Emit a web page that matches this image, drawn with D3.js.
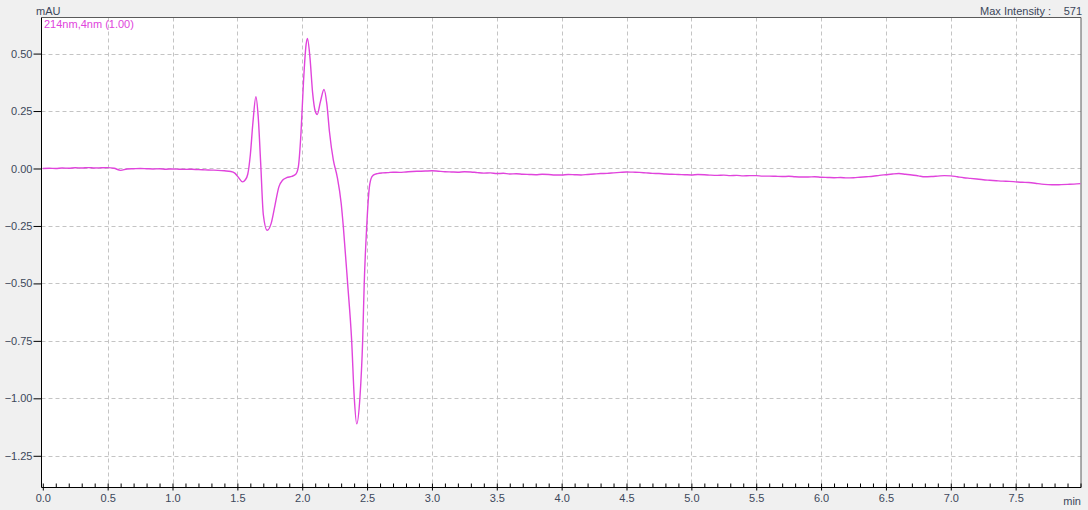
<!DOCTYPE html>
<html>
<head>
<meta charset="utf-8">
<script src="https://cdn.jsdelivr.net/npm/d3@7"></script>
<style>
  html, body { margin: 0; padding: 0; background: #f0f0f0; }
  svg { display: block; }
  text { font-family: "Liberation Sans", Arial, sans-serif; }
</style>
</head>
<body>
<svg id="chart" width="1088" height="510"></svg>
<script>
// Chromatogram trace, 214 nm channel: retention time (min) and absorbance (mAU)
const times = [
  0.00, 0.05, 0.10, 0.15, 0.20, 0.25, 0.30, 0.35, 0.40, 0.45,
  0.50, 0.55, 0.60, 0.65, 0.70, 0.75, 0.80, 0.85, 0.90, 0.95,
  1.00, 1.05, 1.10, 1.15, 1.20, 1.25, 1.30, 1.35, 1.40, 1.45,
  1.48, 1.51, 1.54, 1.56, 1.58, 1.60, 1.62, 1.643, 1.66, 1.68,
  1.70, 1.73, 1.76, 1.79, 1.82, 1.85, 1.88, 1.92, 1.95, 1.97,
  1.99, 2.01, 2.03, 2.04, 2.06, 2.08, 2.10, 2.116, 2.14, 2.168,
  2.19, 2.21, 2.24, 2.27, 2.30, 2.317, 2.35, 2.381, 2.401, 2.42,
  2.445, 2.466, 2.478, 2.497, 2.515, 2.53, 2.548, 2.58, 2.62, 2.66,
  2.70, 2.75, 2.80, 2.85, 2.90, 2.95, 3.00, 3.05, 3.10, 3.15,
  3.20, 3.25, 3.30, 3.35, 3.40, 3.45, 3.50, 3.55, 3.60, 3.65,
  3.70, 3.75, 3.80, 3.85, 3.90, 3.95, 4.00, 4.05, 4.10, 4.15,
  4.20, 4.25, 4.30, 4.35, 4.40, 4.45, 4.50, 4.55, 4.60, 4.65,
  4.70, 4.75, 4.80, 4.85, 4.90, 4.95, 5.00, 5.05, 5.10, 5.15,
  5.20, 5.25, 5.30, 5.35, 5.40, 5.45, 5.50, 5.55, 5.60, 5.65,
  5.70, 5.75, 5.80, 5.85, 5.90, 5.95, 6.00, 6.05, 6.10, 6.15,
  6.20, 6.25, 6.30, 6.35, 6.40, 6.45, 6.50, 6.55, 6.60, 6.65,
  6.70, 6.75, 6.80, 6.85, 6.90, 6.95, 7.00, 7.05, 7.10, 7.15,
  7.20, 7.25, 7.30, 7.35, 7.40, 7.45, 7.50, 7.55, 7.60, 7.65,
  7.70, 7.75, 7.80, 7.85, 7.90, 7.95, 8.00
];
const intensity = [
  0.000, 0.001, 0.000, 0.002, 0.001, 0.003, 0.002, 0.004, 0.002, 0.003,
  0.004, 0.001, -0.008, -0.002, -0.001, 0.000, -0.001, -0.002, -0.001, -0.003,
  -0.002, -0.003, -0.004, -0.003, -0.005, -0.006, -0.007, -0.008, -0.010, -0.013,
  -0.020, -0.040, -0.058, -0.050, -0.025, 0.060, 0.200, 0.312, 0.230, 0.020,
  -0.200, -0.269, -0.240, -0.160, -0.080, -0.050, -0.040, -0.034, -0.025, 0.007,
  0.150, 0.380, 0.540, 0.566, 0.480, 0.330, 0.250, 0.235, 0.290, 0.344,
  0.280, 0.160, 0.036, -0.037, -0.150, -0.254, -0.500, -0.748, -0.995, -1.111,
  -0.995, -0.748, -0.500, -0.254, -0.095, -0.045, -0.029, -0.022, -0.019, -0.018,
  -0.016, -0.017, -0.015, -0.013, -0.012, -0.011, -0.010, -0.012, -0.014, -0.015,
  -0.016, -0.014, -0.015, -0.018, -0.020, -0.019, -0.022, -0.021, -0.024, -0.023,
  -0.025, -0.026, -0.027, -0.025, -0.026, -0.028, -0.028, -0.026, -0.027, -0.028,
  -0.026, -0.024, -0.022, -0.021, -0.019, -0.017, -0.015, -0.016, -0.017, -0.019,
  -0.021, -0.022, -0.024, -0.025, -0.026, -0.027, -0.028, -0.026, -0.027, -0.029,
  -0.030, -0.029, -0.031, -0.030, -0.032, -0.031, -0.031, -0.033, -0.033, -0.034,
  -0.035, -0.034, -0.036, -0.037, -0.037, -0.036, -0.038, -0.039, -0.040, -0.039,
  -0.041, -0.040, -0.038, -0.036, -0.034, -0.030, -0.027, -0.024, -0.022, -0.025,
  -0.028, -0.032, -0.036, -0.035, -0.033, -0.031, -0.032, -0.036, -0.040, -0.043,
  -0.046, -0.049, -0.051, -0.053, -0.055, -0.056, -0.058, -0.060, -0.061, -0.064,
  -0.068, -0.070, -0.071, -0.070, -0.069, -0.068, -0.066
];

// Axis tick values and labels
const xTickValues = [0.0, 0.5, 1.0, 1.5, 2.0, 2.5, 3.0, 3.5, 4.0, 4.5, 5.0, 5.5, 6.0, 6.5, 7.0, 7.5];
const yTickValues = [0.50, 0.25, 0.00, -0.25, -0.50, -0.75, -1.00, -1.25];

const channelLabel = "214nm,4nm (1.00)";
const yUnit = "mAU";
const xUnit = "min";
const maxIntensityLabel = "Max Intensity :";
const maxIntensityValue = "571";

const data = times.map((t, i) => ({ t: t, v: intensity[i] }));

const svg = d3.select("#chart");
const W = 1088, H = 510;
const plot = { left: 41.5, right: 1081, top: 17.5, bottom: 487.5 };

const x = d3.scaleLinear().domain([0, 8]).range([42.8, 1080.5]);
const y = d3.scaleLinear().domain([-1.388, 0.657]).range([plot.bottom, plot.top]);

const lineColor = "#e044dc";
const textColor = "#3c475a";

// Plot background
svg.append("rect")
  .attr("x", plot.left).attr("y", plot.top)
  .attr("width", plot.right - plot.left).attr("height", plot.bottom - plot.top)
  .attr("fill", "#ffffff");

// Dashed grid
const grid = svg.append("g").attr("stroke", "#c4c4c4").attr("stroke-dasharray", "4,3").attr("stroke-width", 1);
grid.selectAll("line.v").data(xTickValues.filter(d => d > 0)).enter().append("line")
  .attr("x1", d => Math.round(x(d)) + 0.5).attr("x2", d => Math.round(x(d)) + 0.5)
  .attr("y1", plot.top).attr("y2", plot.bottom);
grid.selectAll("line.h").data(yTickValues).enter().append("line")
  .attr("x1", plot.left).attr("x2", plot.right)
  .attr("y1", d => Math.round(y(d)) + 0.5).attr("y2", d => Math.round(y(d)) + 0.5);

// Frame: top and right edges
svg.append("path")
  .attr("d", `M${plot.left},${plot.top}H${plot.right}V${plot.bottom}`)
  .attr("fill", "none").attr("stroke", "#5a5a5a").attr("stroke-width", 1);

// Trace
const clip = svg.append("clipPath").attr("id", "clip").append("rect")
  .attr("x", plot.left).attr("y", plot.top)
  .attr("width", plot.right - plot.left).attr("height", plot.bottom - plot.top);

const line = d3.line().x(d => x(d.t)).y(d => y(d.v)).curve(d3.curveMonotoneX);
svg.append("path")
  .datum(data)
  .attr("clip-path", "url(#clip)")
  .attr("d", line)
  .attr("fill", "none")
  .attr("stroke", lineColor)
  .attr("stroke-width", 1.4)
  .attr("stroke-linejoin", "round");

// Y axis: major ticks with labels, minor ticks every 0.05
const yAxis = d3.axisLeft(y).tickValues(yTickValues).tickFormat(d3.format(".2f")).tickSize(8).tickPadding(1);
const yMinor = d3.range(-1.35, 0.651, 0.05).map(v => +v.toFixed(2));
const gy = svg.append("g").attr("transform", `translate(${plot.left},0)`);
gy.call(d3.axisLeft(y).tickValues(yMinor).tickFormat("").tickSize(4).tickSizeOuter(0));
gy.call(yAxis);
gy.selectAll(".domain").attr("stroke", "#000");
gy.selectAll("line").attr("stroke", "#000");
gy.selectAll("text").attr("fill", textColor).attr("font-size", 11);
gy.selectAll(".domain").attr("d", `M0,${plot.top}V${plot.bottom}`);

// X axis: major ticks with labels, minor ticks every 0.1 pointing inward
const xMinor = d3.range(0, 8.01, 0.1).map(v => +v.toFixed(1));
const gx = svg.append("g").attr("transform", `translate(0,${plot.bottom})`);
gx.call(d3.axisTop(x).tickValues(xMinor).tickFormat("").tickSize(4).tickSizeOuter(0));
gx.selectAll(".domain").attr("d", `M${plot.left},0H${plot.right}`);
const gx2 = svg.append("g").attr("transform", `translate(0,${plot.bottom})`);
gx2.call(d3.axisBottom(x).tickValues(xTickValues).tickFormat(d3.format(".1f")).tickSize(3).tickPadding(4));
gx2.select(".domain").remove();
svg.selectAll("g line, g .domain").attr("stroke", "#000");
grid.selectAll("line").attr("stroke", "#c4c4c4");
gx2.selectAll("text").attr("fill", textColor).attr("font-size", 11);

// Labels
svg.append("text").attr("x", 36).attr("y", 14.5).attr("font-size", 11).attr("fill", textColor).text(yUnit);
svg.append("text").attr("x", 44).attr("y", 28).attr("font-size", 11).attr("fill", lineColor).text(channelLabel);
svg.append("text").attr("x", 1081).attr("y", 505).attr("text-anchor", "end").attr("font-size", 11).attr("fill", textColor).text(xUnit);
svg.append("text").attr("x", 1051).attr("y", 14.5).attr("text-anchor", "end").attr("font-size", 11).attr("fill", textColor).text(maxIntensityLabel);
svg.append("text").attr("x", 1082).attr("y", 14.5).attr("text-anchor", "end").attr("font-size", 11).attr("fill", textColor).text(maxIntensityValue);
</script>
</body>
</html>
